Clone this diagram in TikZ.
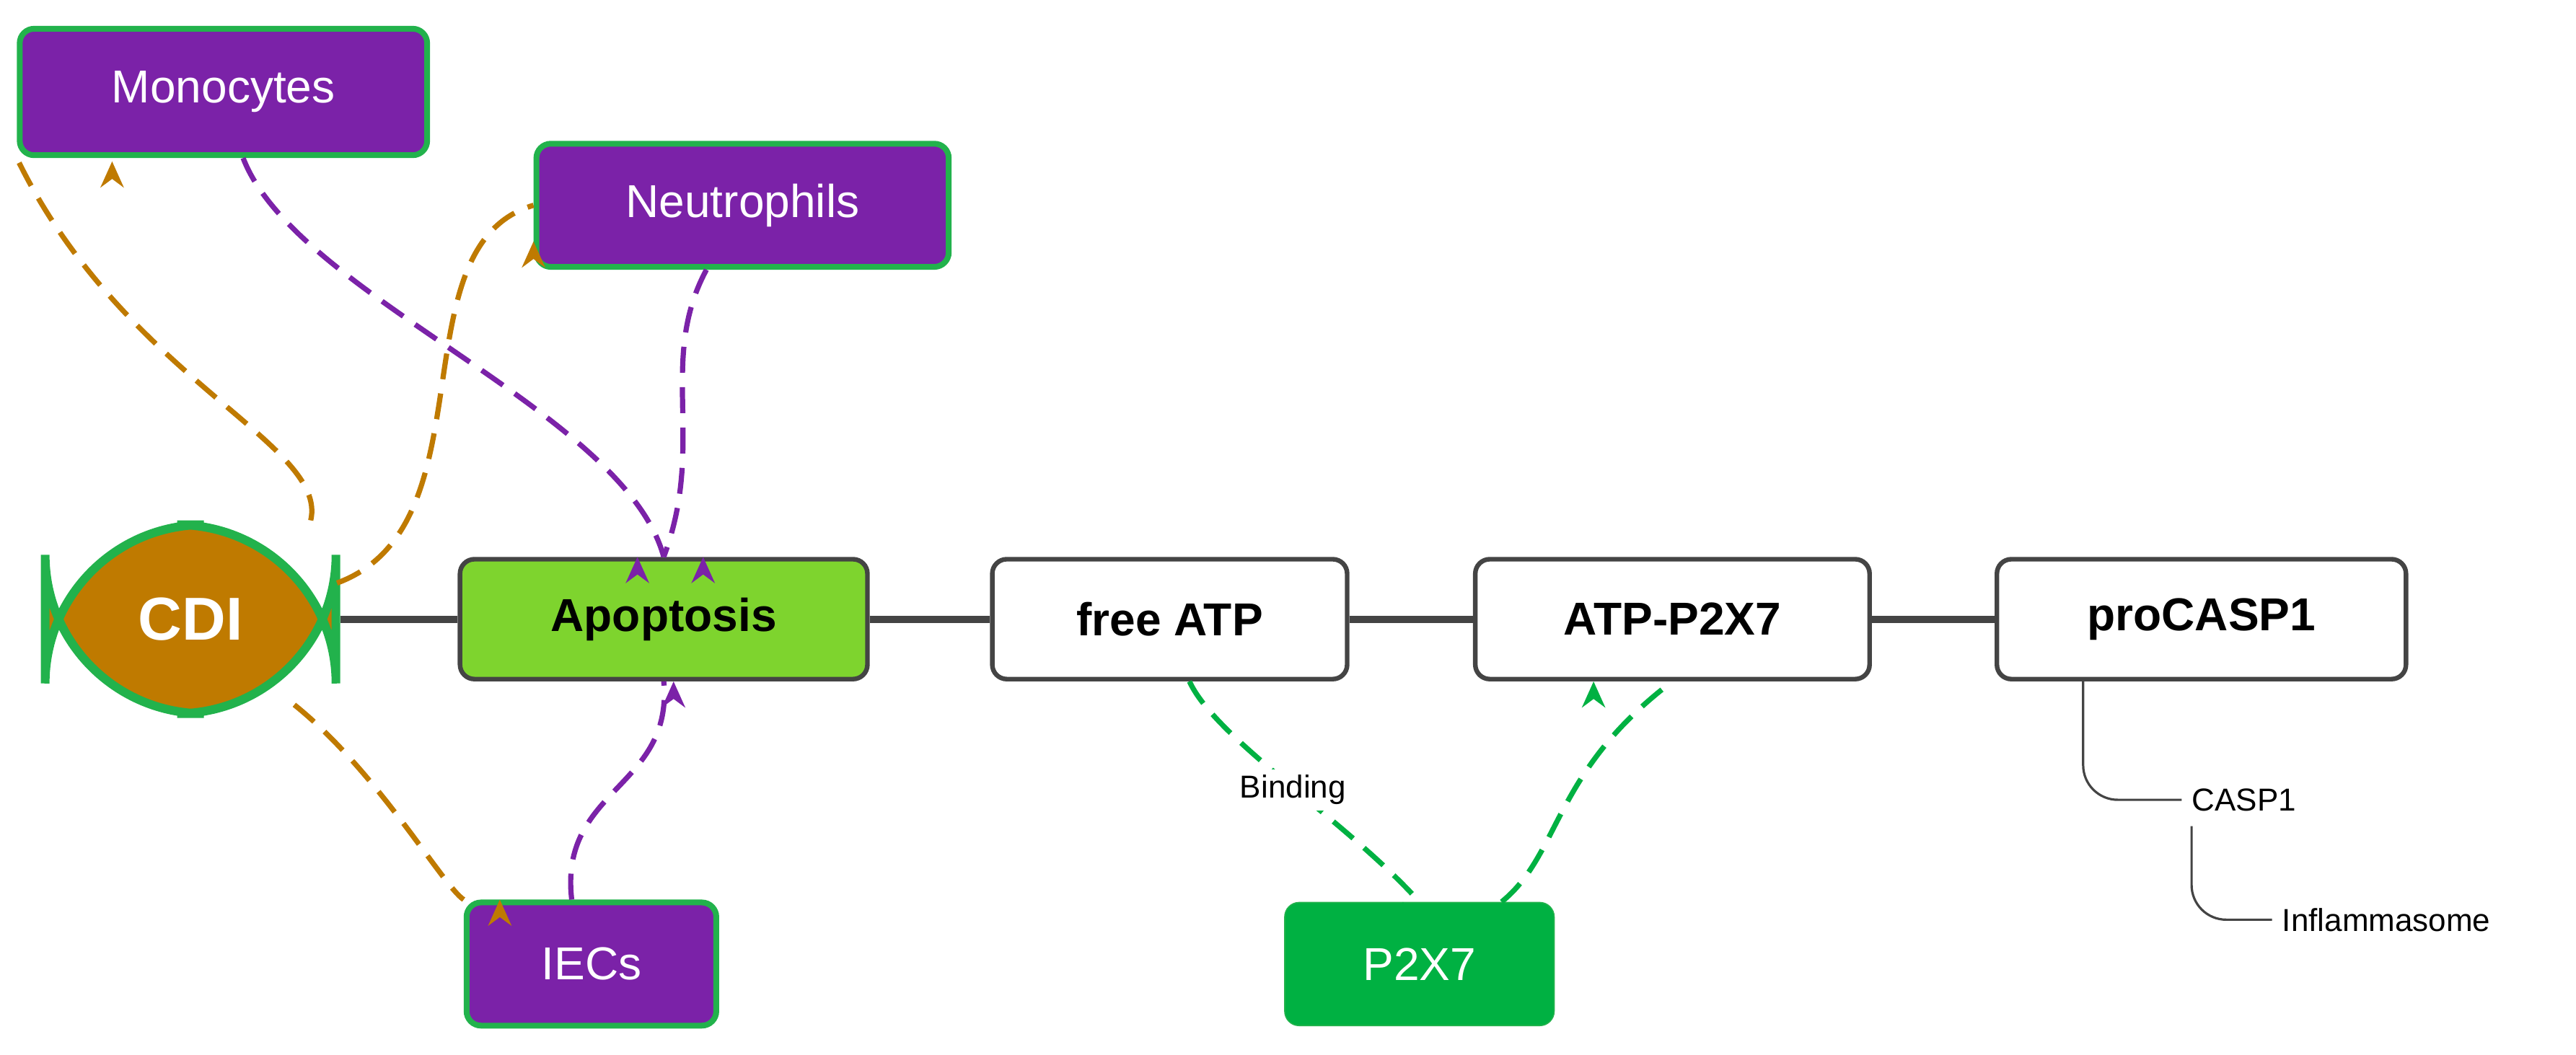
\documentclass[tikz,border=0pt]{standalone}
\usepackage{fontspec}
\setmainfont{Liberation Sans}
\usetikzlibrary{arrows.meta}
\definecolor{purp}{HTML}{7B22A8}
\definecolor{gborder}{HTML}{22B24C}
\definecolor{cdi}{HTML}{BF7A00}
\definecolor{apo}{HTML}{7ED42E}
\definecolor{ptx}{HTML}{00B142}
\definecolor{line}{HTML}{444444}
\begin{document}
\begin{tikzpicture}[x=0.02cm,y=-0.02cm,
 box/.style={draw=line,line width=1.6pt,rounded corners=5pt,inner sep=0pt,font=\bfseries\fontsize{16}{18}\selectfont},
 cell/.style={draw=gborder,fill=purp,line width=2pt,rounded corners=5pt,inner sep=0pt,text=white,font=\fontsize{16}{18}\selectfont},
 dsh/.style={line width=1.8pt,dash pattern=on 9pt off 5pt,-{Stealth[length=9pt,width=8pt]}},
 small/.style={font=\fontsize{11}{13}\selectfont}]
\useasboundingbox (0,0) rectangle (1568,642);
\node[cell,minimum width=248*0.02cm,minimum height=77*0.02cm] (mono) at (136,56) {Monocytes};
\node[cell,minimum width=251*0.02cm,minimum height=75*0.02cm] (neut) at (452,125) {Neutrophils};
\node[cell,minimum width=152*0.02cm,minimum height=75*0.02cm] (iec) at (360,587) {IECs};
\node[draw=gborder,fill=ptx,rounded corners=5pt,minimum width=164*0.02cm,minimum height=75*0.02cm,text=white,font=\fontsize{16}{18}\selectfont] (p2x7) at (864,587) {P2X7};
\node[draw=gborder,fill=cdi,line width=3pt,rounded corners=55pt,minimum width=177*0.02cm,minimum height=115*0.02cm,text=white,font=\bfseries\fontsize{21}{24}\selectfont] (cdi) at (116,377) {CDI};
\node[box,fill=apo,minimum width=248*0.02cm,minimum height=73*0.02cm] (apo) at (404,377) {Apoptosis};
\node[box,fill=white,minimum width=216*0.02cm,minimum height=73*0.02cm] (atp) at (712,377) {free ATP};
\node[box,fill=white,minimum width=240*0.02cm,minimum height=73*0.02cm] (atpp) at (1018,377) {ATP-P2X7};
\node[box,fill=white,minimum width=249*0.02cm,minimum height=73*0.02cm] (pro) at (1340,377) {proCASP1};
\draw[line,line width=2.5pt] (cdi) -- (apo) (apo) -- (atp) (atp) -- (atpp) (atpp) -- (pro);
\node[small,anchor=west] (casp) at (1328,487) {CASP1};
\node[small,anchor=west] (infl) at (1383,560) {Inflammasome};
\coordinate (c1) at (1268,414);
\coordinate (c2) at (1334,503);
\draw[line,line width=0.8pt,rounded corners=12pt] (c1) |- (casp.west);
\draw[line,line width=0.8pt,rounded corners=12pt] (c2) |- (infl.west);
% orange
\draw[dsh,draw=cdi,-{Stealth[length=9pt,width=8pt,fill=cdi]}] (cdi.north east)++(-18,0) coordinate(o1) .. controls (200,270) and (75,230) .. (mono.south west)++(58,2);
\draw[dsh,draw=cdi] (cdi.east)++(-2,-22) .. controls (300,320) and (240,150) .. (neut.west)++(0,22);
\draw[dsh,draw=cdi] (cdi.south east)++(-28,-8) .. controls (230,470) and (270,540) .. ([xshift=-2cm*0.02/0.02*0]iec.north west)++(22,0);
% purple
\draw[dsh,draw=purp] (mono.south)++(12,0) .. controls (180,180) and (380,250) .. (apo.north)++(-16,0);
\draw[dsh,draw=purp] (neut.south)++(-22,0) .. controls (400,220) and (430,270) .. (apo.north)++(24,0);
\draw[dsh,draw=purp] (iec.north)++(-12,0) .. controls (340,480) and (410,480) .. (apo.south)++(6,0);
% green
\node[small,fill=white,inner sep=2pt] (bind) at (787,481) {Binding};
\draw[dsh,draw=ptx] (atp.south)++(12,0) .. controls (740,450) and (820,500) .. (p2x7.north)++(-10,0);
\draw[dsh,draw=ptx] (p2x7.north)++(50,0) .. controls (950,520) and (945,470) .. (atpp.south)++(-48,0);
\node[small,fill=white,inner sep=2pt] at (787,481) {Binding};
\end{tikzpicture}
\end{document}
